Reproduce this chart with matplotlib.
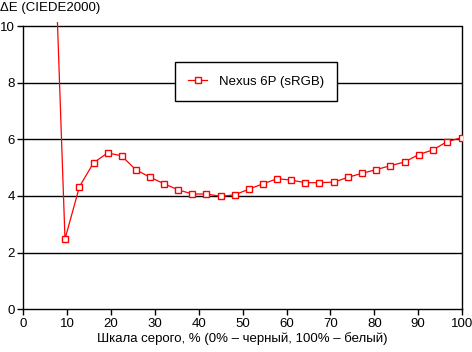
import matplotlib
matplotlib.use("Agg")
import matplotlib.pyplot as plt

# grey level, % and colour error dE
gray = [6.3, 9.5, 12.8, 16.0, 19.2, 22.4, 25.6, 28.8, 32.1, 35.3, 38.5, 41.7, 45.0, 48.2, 51.4,
        54.6, 57.9, 61.1, 64.3, 67.5, 70.8, 74.0, 77.2, 80.4, 83.7, 86.9, 90.1, 93.4, 96.6, 100.0]
de = [16.7, 2.48, 4.33, 5.17, 5.52, 5.42, 4.93, 4.67, 4.43, 4.22, 4.07, 4.07, 3.99, 4.04, 4.24,
      4.43, 4.61, 4.56, 4.47, 4.47, 4.49, 4.66, 4.80, 4.93, 5.07, 5.20, 5.46, 5.63, 5.92, 6.06]
series_name = "Nexus 6P (sRGB)"
xticks = [0, 10, 20, 30, 40, 50, 60, 70, 80, 90, 100]
yticks = [0, 2, 4, 6, 8, 10]

plt.rcParams['font.family'] = ['Liberation Sans', 'DejaVu Sans']
plt.rcParams['font.size'] = 9.5

fig = plt.figure(figsize=(4.72, 3.52), dpi=100)
ax = fig.add_axes([0.0494, 0.1213, 0.9294, 0.8168])

for y in yticks[1:]:
    ax.axhline(y, color='black', lw=1.0, zorder=1)

ax.plot(gray, de, color='red', lw=0.9, marker='s', ms=5, mfc='white', mec='red', mew=1.0,
        label=series_name, zorder=3)

ax.set_xlim(0, 100)
ax.set_ylim(0, 10.15)
ax.set_xticks(xticks)
ax.set_yticks(yticks)
ax.tick_params(direction='out', length=4, width=1, color='black', pad=2)
ax.spines['top'].set_visible(False)
for s in ['left', 'right']:
    ax.spines[s].set_bounds(0, 10)
for s in ['left', 'right', 'bottom']:
    ax.spines[s].set_linewidth(1.0)

ax.set_xlabel("Шкала серого, % (0% – черный, 100% – белый)", labelpad=2)
fig.text(0.0, 0.977, "ΔE (CIEDE2000)", ha='left', va='center')

leg = ax.legend(loc='center', bbox_to_anchor=(0.5305, 0.792),
                frameon=True, fancybox=False, borderpad=1.0, borderaxespad=0,
                handlelength=1.45, handletextpad=0.9)
leg.get_frame().set_edgecolor('black')
leg.get_frame().set_linewidth(1.0)
leg.get_frame().set_alpha(1)

fig.savefig("out.png", dpi=100)
